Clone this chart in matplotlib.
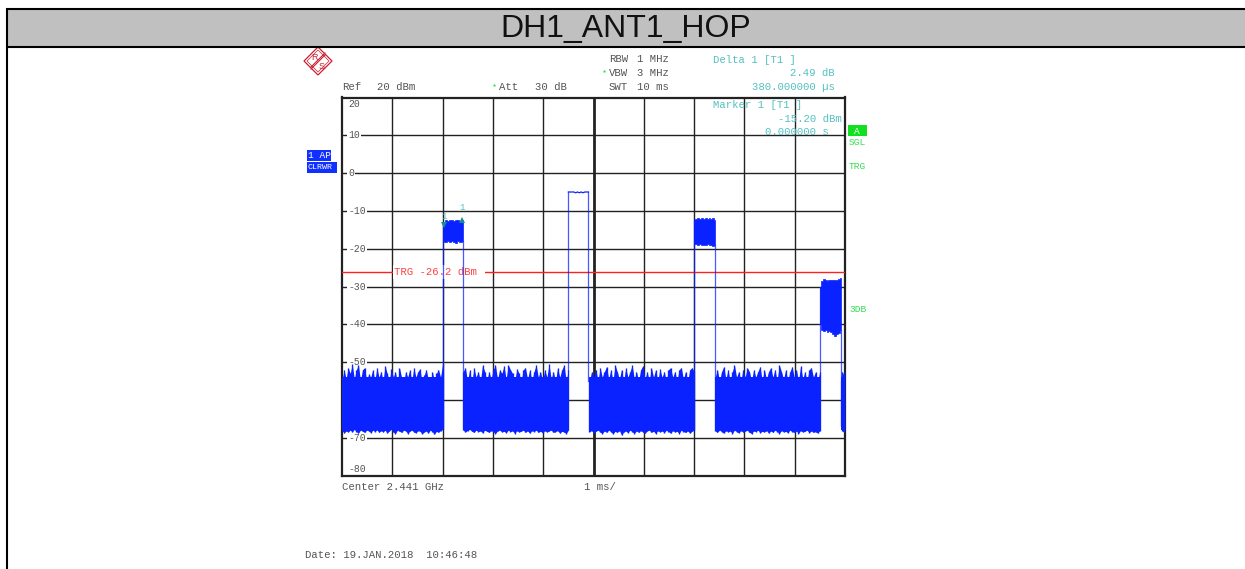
import numpy as np
import matplotlib
matplotlib.use("Agg")
import matplotlib.pyplot as plt
from matplotlib.patches import Rectangle, Polygon

W, H = 1245, 569
TITLE = "DH1_ANT1_HOP"

# Time axis (ms) and level axis (dBm)
x_ticks = [0, 1, 2, 3, 4, 5, 6, 7, 8, 9, 10]
y_ticks = [10, 0, -10, -20, -30, -40, -50, -60, -70]
y_labels = ["20", "10", "0", "-10", "-20", "-30", "-40", "-50", "-70", "-80"]
y_label_vals = [20, 10, 0, -10, -20, -30, -40, -50, -70, -80]

# Noise floor segments between hops: start, stop, upper and lower trace envelope (dBm)
n1_span = (0.0, 2.0)
n1_up = [-55, -52, -54.5, -51.5, -53, -50.5, -54.5, -52, -50.8, -55, -52, -51.5, -55, -53.2, -54, -52, -55, -51.5,
         -54, -52.5, -55, -51, -53, -55, -51.8, -54, -52.5, -55.5, -51.5, -54, -55.5, -52.5, -54, -52, -55, -51.5,
         -54, -52.5, -51.8, -55.5, -53.5, -52, -54.5, -55.5, -52.5, -55, -53, -52, -54, -50.5]
n1_lo = [-68, -68.8, -68.2, -68.5, -68, -68.5, -67.8, -68.4, -68.8, -68, -68.3, -68.6, -68, -68.2, -68.7, -68, -68.4, -67.9,
         -68.6, -68.1, -68.5, -68, -68.8, -68.2, -67.8, -68.5, -68.9, -68, -68.3, -68.6, -68, -68.2, -68.9, -68.3, -68, -68.5,
         -68.7, -68.1, -68.3, -69, -68.5, -68.2, -68.8, -68, -68.4, -69.1, -68.3, -68.6, -68.1, -67.8]
n2_span = (2.41, 4.5)
n2_up = [-52.5, -51.5, -55, -52, -55.5, -51.5, -54, -52.5, -55, -50.8, -52.5, -55, -52.5, -54.5, -52, -50.8, -54.5, -52, -53, -51,
         -54.5, -50.8, -52, -53, -55, -51.8, -53, -55, -52, -51.5, -54.5, -52, -55, -52.5, -50.8, -54, -52.5, -55, -52, -54,
         -50.6, -54.5, -52.5, -55, -51.5, -54, -52, -50.8, -55, -52]
n2_lo = [-68, -68.5, -68.1, -67.8, -68.3, -68.6, -68, -68.4, -68.2, -68.7, -68, -68.3, -68.6, -68.1, -68.4, -68.9, -68.2, -68, -68.5, -68.3,
         -68.7, -68, -68.4, -68.2, -68.9, -68.1, -68.5, -68.3, -68, -68.6, -68.2, -68.8, -68.1, -68.4, -68, -68.6, -68.3, -68.7, -68.1, -68.5,
         -68.2, -68, -68.6, -68.4, -68.1, -68.8, -68.3, -68.5, -68.9, -68]
n3_span = (4.92, 7.0)
n3_up = [-55, -52.5, -54, -52, -55, -51.5, -54, -52.5, -51.2, -54.5, -52, -55, -50.8, -52.5, -54.5, -52, -55, -51.5, -54, -52.5,
         -50.8, -54.5, -52.5, -55, -52, -51, -54.5, -52.5, -55, -51.5, -54, -52, -55, -51.8, -54, -52.5, -55, -52, -51.5, -54,
         -52.5, -55, -52, -51.5, -54.5, -52.5, -55, -52, -51.5, -52.5]
n3_lo = [-68.5, -68.1, -68.8, -68.3, -68, -68.5, -68.9, -68.2, -68.6, -68, -68.4, -69, -68.3, -68.6, -68.1, -69.3, -68.5, -68.2, -68.7, -68,
         -68.4, -68.9, -68.2, -68.6, -68.1, -68.5, -68.8, -68.2, -68, -68.6, -68.3, -68.9, -68.1, -68.5, -68.2, -68.7, -68, -68.4, -68.8, -68.1,
         -68.5, -68.3, -68.9, -68, -68.4, -68.6, -68.2, -68.8, -68.3, -68]
n4_span = (7.42, 9.5)
n4_up = [-54, -52, -55, -52.5, -51.2, -54.5, -52, -55, -52.5, -50.8, -54, -52.5, -55, -52, -54, -51.5, -52.5, -55, -52, -54,
         -52.5, -51.2, -55, -52, -54.5, -52.5, -51.5, -54, -52, -55, -50.8, -52.5, -54.5, -52, -55, -52.5, -51.2, -54, -52, -55,
         -51, -54.5, -52.5, -55, -52, -51.5, -54, -52.5, -55, -52.5]
n4_lo = [-68.2, -68.6, -68, -68.4, -68.8, -68.1, -68.5, -68.2, -68.9, -68, -68.4, -68.7, -68.1, -68.5, -68.3, -68, -68.6, -68.9, -68.2, -68.4,
         -68, -68.7, -68.3, -68.5, -68.1, -68.8, -68.2, -68.6, -68, -68.4, -68.9, -68.1, -68.5, -68.3, -68.7, -68, -68.4, -68.6, -68.2, -68.9,
         -68.1, -68.5, -68.3, -68, -68.7, -68.2, -68.6, -68.4, -68.8, -68.1]
n5_span = (9.92, 10.0)
n5_up = [-55, -52.5, -53.5, -52]
n5_lo = [-67, -68.2, -68.5, -68]

# Hop bursts: start, stop, upper and lower trace (dBm)
b1_span = (2.0, 2.41)
b1_up = [-13.2, -13, -12.5, -12.7, -12.5, -12.4, -12.6, -12.5, -12.4, -12.6, -12.8, -12.5]
b1_lo = [-18, -18.2, -18.1, -18, -18.3, -18, -18.2, -18.4, -18, -18.1, -18.2, -18]
b2_span = (4.5, 4.9)
b2_up = [-5, -5, -5, -5, -5.2, -5, -5.2, -5, -5.2, -5, -5, -5]
b3_span = (7.0, 7.42)
b3_up = [-12.4, -12.1, -12, -12.2, -12, -12.1, -12, -12.2, -12, -12.1, -12, -12.3]
b3_lo = [-18.7, -18.8, -19, -18.8, -19.1, -18.9, -19, -18.8, -19.1, -19, -19.2, -18.9]
b4_span = (9.5, 9.92)
b4_up = [-30, -28.5, -28, -28.2, -28.5, -28.4, -28.3, -28.2, -28.4, -28.2, -28, -27.8]
b4_lo = [-40, -41.5, -41.8, -41.6, -42, -41.8, -42, -42.6, -43, -42.6, -42.4, -41.5]

TRG_LEVEL = -26.2
MARKER_T = [2.02, 2.38]
MARKER_Y = [-13.8, -12.3]

BLUE = "#0a22ff"
GRID = "#222222"
GREY = "#555555"
TEAL = "#55c0c0"
GREEN = "#33e050"
MONO = "Liberation Mono"

fig = plt.figure(figsize=(W / 100, H / 100), dpi=100, facecolor="white")

# page furniture in pixel coordinates
bg = fig.add_axes([0, 0, 1, 1])
bg.set_xlim(0, W)
bg.set_ylim(H, 0)
bg.axis("off")
bg.add_patch(Rectangle((8, 9), W - 8, 38, fc="#c0c0c0", ec="none"))
bg.plot([7, 7], [8, H], color="black", lw=1.5, solid_capstyle="butt")
bg.plot([6, W], [9, 9], color="black", lw=1.5, solid_capstyle="butt")
bg.plot([6, W], [47, 47], color="black", lw=1.5, solid_capstyle="butt")
bg.text(625.5, 28.5, TITLE, ha="center", va="center", fontsize=23, family="Liberation Sans", color="#111111")


def t(x, y, s, color=GREY, ha="left", size=7.7, **kw):
    bg.text(x, y, s, color=color, ha=ha, va="center", fontsize=size, family=MONO, **kw)


t(342, 86.5, "Ref")
t(377, 86.5, "20 dBm")
t(499, 86.5, "Att")
t(535, 86.5, "30 dB")
t(609, 58.5, "RBW")
t(637, 58.5, "1 MHz")
t(609, 72.5, "VBW")
t(637, 72.5, "3 MHz")
t(609, 86.5, "SWT")
t(637, 86.5, "10 ms")
bg.plot([494, 604], [85, 71], ls="none", marker="*", ms=2.8, color=GREEN, mew=0)
t(713, 59.5, "Delta 1 [T1 ]", TEAL)
t(835, 72.5, "2.49 dB", TEAL, ha="right")
t(835, 86.5, "380.000000 µs", TEAL, ha="right")
t(342, 486.5, "Center 2.441 GHz")
t(584, 486.5, "1 ms/")
t(305, 555.5, "Date: 19.JAN.2018  10:46:48")

# side labels
bg.add_patch(Rectangle((307, 150), 24, 11, fc="#1030ff", ec="none"))
bg.add_patch(Rectangle((307, 162), 30, 11, fc="#1030ff", ec="none"))
t(308.5, 155.5, "1 AP", "white", size=6.8)
t(308, 167.5, "CLRWR", "white", size=6.0)
bg.add_patch(Rectangle((848, 125), 18.5, 11, fc="#10e020", ec="none"))
t(857, 131, "A", "white", ha="center", size=6.8)
t(849, 142.5, "SGL", GREEN, size=6.8)
t(849, 166.5, "TRG", GREEN, size=6.8)
t(849, 309.5, "3DB", GREEN, size=6.8)

# R&S logo
red = "#cc2030"
cx, cy, r = 318, 61, 14
bg.add_patch(Polygon([(cx - r, cy), (cx, cy - r), (cx + r, cy), (cx, cy + r)], closed=True, fc="white", ec=red, lw=0.9))
bg.add_patch(Polygon([(cx - r + 3, cy), (cx, cy - r + 3), (cx + r - 3, cy), (cx, cy + r - 3)], closed=True, fc="none", ec=red, lw=0.5))
bg.plot([cx - 7, cx + 7], [cy + 6, cy - 8], color=red, lw=0.8)
bg.plot([cx - 7, cx + 7], [cy + 8, cy - 6], color=red, lw=0.8)
bg.text(cx - 4, cy - 4, "R", color=red, fontsize=6.5, family="Liberation Sans", ha="center", va="center")
bg.text(cx + 4, cy + 5, "S", color=red, fontsize=6.5, family="Liberation Sans", ha="center", va="center")

# measurement grid
ax = fig.add_axes([342 / W, 1 - 475.5 / H, 503 / W, 378 / H])
ax.patch.set_alpha(0)
ax.set_xlim(0, 10)
ax.set_ylim(-80, 20)
ax.set_xticks([])
ax.set_yticks([])
for s in ax.spines.values():
    s.set_linewidth(1.6)
    s.set_color("#222222")
for v in x_ticks[1:-1]:
    ax.axvline(v, color=GRID, lw=2.0 if v == 5 else 1.0, zorder=1)
for v in y_ticks:
    ax.axhline(v, color=GRID, lw=1.0, zorder=1)
for v, s in zip(y_label_vals, y_labels):
    ax.annotate(s, (0, v), xytext=(6, 0 if v not in (20, -80) else (-7 if v == 20 else 7)),
                textcoords="offset pixels", ha="left", va="center", fontsize=7, family=MONO, color=GREY, zorder=2,
                bbox=dict(fc="white", ec="none", pad=0.8))

# trigger line
ax.axhline(TRG_LEVEL, color="#ff2020", lw=1.0, zorder=3)
ax.annotate("TRG -26.2 dBm ", (1.04, TRG_LEVEL), ha="left", va="center", fontsize=7.7, family=MONO,
            color="#ff4040", zorder=3, bbox=dict(fc="white", ec="none", pad=1.2))


def band(span, up, lo):
    xs = np.linspace(span[0], span[1], len(up))
    ax.fill_between(xs, up, lo, color=BLUE, lw=0, zorder=4)
    ax.fill_between([span[0], span[1]], -54, -67.9, color=BLUE, lw=0, zorder=4)
    ax.vlines(xs, lo, up, color=BLUE, lw=0.95, zorder=4)


for span, up, lo in [(n1_span, n1_up, n1_lo), (n2_span, n2_up, n2_lo), (n3_span, n3_up, n3_lo),
                     (n4_span, n4_up, n4_lo), (n5_span, n5_up, n5_lo)]:
    band(span, up, lo)
for span, up, lo in [(b1_span, b1_up, b1_lo), (b3_span, b3_up, b3_lo), (b4_span, b4_up, b4_lo)]:
    xs = np.linspace(span[0], span[1], len(up))
    ax.fill_between(xs, up, lo, color=BLUE, lw=0.5, zorder=4, step="mid")

# single flat burst
ax.plot(np.linspace(b2_span[0], b2_span[1], len(b2_up)), b2_up, color=BLUE, lw=0.9, zorder=4)

# vertical trace edges connecting noise floor and bursts
edges = [(b1_span[0], n1_up[-1], b1_up[0]), (b1_span[1], n2_up[0], b1_lo[-1]),
         (b2_span[0], n2_up[-1], b2_up[0]), (b2_span[1], n3_up[0], b2_up[-1]),
         (b3_span[0], n3_up[-1], b3_up[0]), (b3_span[1], n4_up[0], b3_lo[-1]),
         (b4_span[0], n4_up[-1], b4_up[0]), (b4_span[1], n5_up[0], b4_lo[-1])]
for xv, lo, hi in edges:
    ax.plot([xv, xv], [lo, hi], color=BLUE, lw=0.9, alpha=0.75, zorder=4)

# markers
ax.plot(MARKER_T[0], MARKER_Y[0], marker="v", ms=4, color="#109090", mew=0, zorder=5)
ax.plot(MARKER_T[1], MARKER_Y[1], marker="^", ms=4, color="#109090", mew=0, zorder=5)
ax.annotate("1", (MARKER_T[0], -11.5), ha="center", va="center", fontsize=6.5, family=MONO, color=TEAL, zorder=5)
ax.annotate("1", (MARKER_T[1], -9.2), ha="center", va="center", fontsize=6.5, family=MONO, color=TEAL, zorder=5)

# marker readout drawn over grid
top = fig.add_axes([0, 0, 1, 1])
top.set_xlim(0, W)
top.set_ylim(H, 0)
top.axis("off")
for x, y, s, ha in [(713, 104.5, "Marker 1 [T1 ]", "left"), (842, 118.5, "-15.20 dBm", "right"),
                    (829, 131.5, "0.000000 s", "right")]:
    top.text(x, y, s, color=TEAL, ha=ha, va="center", fontsize=7.7, family=MONO)

fig.savefig("out.png", dpi=100, facecolor="white")
